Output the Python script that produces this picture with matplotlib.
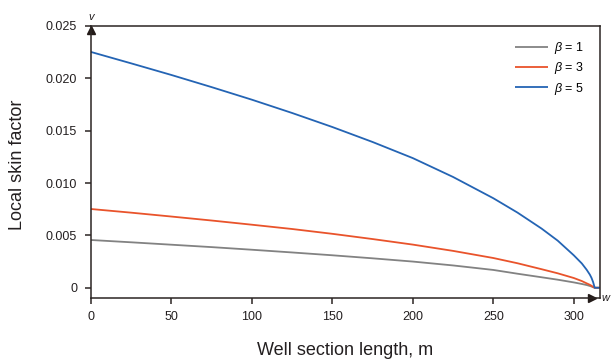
import matplotlib
matplotlib.use("Agg")
import matplotlib.pyplot as plt

plt.rcParams['font.family'] = ['Liberation Sans', 'DejaVu Sans']
plt.rcParams['mathtext.fontset'] = 'custom'
plt.rcParams['mathtext.it'] = 'Liberation Sans:italic'
plt.rcParams['mathtext.rm'] = 'Liberation Sans'

# Well section length (m)
x_pos = [0, 25, 50, 75, 100, 125, 150, 175, 200, 225, 250, 265, 280, 290,
         300, 305, 308, 310, 311, 312, 313, 316]
# Local skin factor for each beta
skin_b1 = [0.00456, 0.00434, 0.00411, 0.00388, 0.00363, 0.00337, 0.00310,
           0.00281, 0.00250, 0.00213, 0.00170, 0.00134, 0.00100, 0.00077,
           0.00051, 0.00036, 0.00026, 0.00017, 0.00012, 0.00005, 0.0, 0.0]
skin_b3 = [0.00752, 0.00717, 0.00680, 0.00642, 0.00602, 0.00561, 0.00515,
           0.00465, 0.00412, 0.00352, 0.00284, 0.00234, 0.00177, 0.00138,
           0.00093, 0.00064, 0.00042, 0.00028, 0.00019, 0.00008, 0.0, 0.0]
skin_b5 = [0.02252, 0.02143, 0.02032, 0.01916, 0.01796, 0.01669, 0.01535,
           0.01392, 0.01238, 0.01058, 0.00855, 0.00718, 0.00565, 0.00450,
           0.00310, 0.00232, 0.00172, 0.00125, 0.00095, 0.00055, 0.0, 0.0]
series_labels = [r'$\it{\beta}$ = 1', r'$\it{\beta}$ = 3', r'$\it{\beta}$ = 5']
series_colors = ['#828282', '#e9532b', '#2464b4']

x_ticks = [0, 50, 100, 150, 200, 250, 300]
x_ticklabels = ['0', '50', '100', '150', '200', '250', '300']
y_ticks = [0, 0.005, 0.010, 0.015, 0.020, 0.025]
y_ticklabels = ['0', '0.005', '0.010', '0.015', '0.020', '0.025']

W, H = 612, 360
fig = plt.figure(figsize=(W / 100, H / 100), dpi=100)
L, R, T, B = 91, 600, 26, 298
ax = fig.add_axes([L / W, 1 - B / H, (R - L) / W, (B - T) / H])

dark = '#2b2523'
for ys, lab, c in zip([skin_b1, skin_b3, skin_b5], series_labels, series_colors):
    ax.plot(x_pos, ys, color=c, lw=1.3, label=lab, solid_capstyle='butt')

ax.set_xlim(0, 316.3)
ax.set_ylim(-0.00098, 0.025)
ax.set_xticks(x_ticks)
ax.set_xticklabels(x_ticklabels)
ax.set_yticks(y_ticks)
ax.set_yticklabels(y_ticklabels)

for s in ax.spines.values():
    s.set_color(dark)
    s.set_linewidth(1.1)
ax.tick_params(direction='out', length=4, width=1.1, color=dark,
               labelsize=9, labelcolor='#231f20')
ax.tick_params(axis='y', pad=6)
ax.tick_params(axis='x', pad=5)

ax.set_xlabel('Well section length, m', fontsize=13, color='#231f20')
ax.xaxis.set_label_coords(0.5, (B - 342) / (B - T))
ax.set_ylabel('Local skin factor', fontsize=13, color='#231f20')
ax.yaxis.label.set_va('center')
ax.yaxis.set_label_coords((18 - L) / (R - L), 0.49)

# axis arrows
ax.plot([311.5], [-0.00098], marker='>', ms=6, color='#231a18', clip_on=False)
ax.plot([0], [0.0246], marker='^', ms=6, color='#231a18', clip_on=False)
ax.text(0, 0.0259, 'v', fontsize=8, style='italic', ha='center', va='center',
        color='#231f20', clip_on=False)
ax.text(319.5, -0.00098, 'w', fontsize=8, style='italic', ha='center', va='center',
        color='#231f20', clip_on=False)

ax.legend(loc='upper left', bbox_to_anchor=((515 - L) / (R - L), (B - 40) / (B - T)),
          frameon=False, fontsize=9, handlelength=2.6, handletextpad=0.5,
          labelspacing=0.35, borderpad=0, borderaxespad=0)

fig.savefig('out.png', dpi=100)
